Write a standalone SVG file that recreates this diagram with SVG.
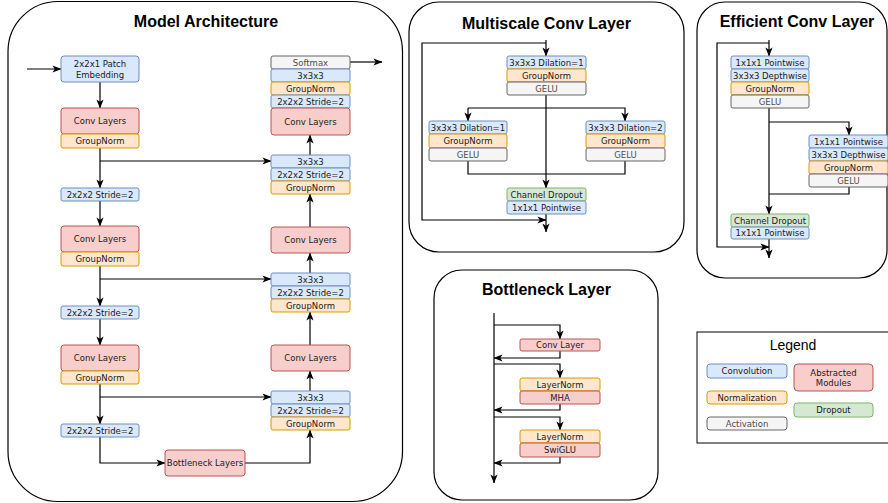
<svg xmlns="http://www.w3.org/2000/svg" width="888" height="503" viewBox="0 0 888 503">
<defs>
<marker id="arr" viewBox="0 0 10 8" refX="9.5" refY="4" markerWidth="9" markerHeight="7.5" markerUnits="userSpaceOnUse" orient="auto">
<path d="M0,0 L10,4 L0,8 L2.5,4 z" fill="#000"/>
</marker>
<style>
.panel{fill:#fff;stroke:#000;stroke-width:1.2}
.title{font-family:"Liberation Sans",Arial,sans-serif;font-weight:bold;font-size:16px;fill:#000;text-anchor:middle}
.t{font-family:"DejaVu Sans",Verdana,sans-serif;font-size:8.5px;fill:#1a1a1a;text-anchor:middle;dominant-baseline:central}
.tg{fill:#4d4d4d}
.b{fill:#dae8fc;stroke:#6c8ebf;stroke-width:1}
.o{fill:#ffe6cc;stroke:#d79b00;stroke-width:1}
.r{fill:#f8cecc;stroke:#b85450;stroke-width:1}
.g{fill:#d5e8d4;stroke:#82b366;stroke-width:1}
.a{fill:#f5f5f5;stroke:#666666;stroke-width:1}
.c{fill:none;stroke:#000;stroke-width:1.2}
.ca{fill:none;stroke:#000;stroke-width:1.2;marker-end:url(#arr)}
</style>
</defs>
<rect width="888" height="503" fill="#fff"/>

<!-- Panels -->
<g id="panel-model">
<rect class="panel" x="8" y="1.5" width="394.5" height="500" rx="50" ry="50"/>
<text class="title" x="206" y="27">Model Architecture</text>
</g>
<g id="panel-multiscale">
<rect class="panel" x="409" y="2" width="275" height="250" rx="30" ry="30"/>
<text class="title" x="546.5" y="29">Multiscale Conv Layer</text>
</g>
<g id="panel-efficient">
<rect class="panel" x="697" y="2" width="190" height="276" rx="28" ry="28"/>
<text class="title" x="797" y="27">Efficient Conv Layer</text>
</g>
<g id="panel-bottleneck">
<rect class="panel" x="434" y="270" width="224" height="230" rx="28" ry="28"/>
<text class="title" x="546.5" y="295">Bottleneck Layer</text>
</g>

<!-- Connectors -->
<g id="connectors">
<!-- Model architecture -->
<path class="ca" d="M27,69 H61"/>
<path class="ca" d="M100,82 V108"/>
<path class="ca" d="M100,148 V188"/>
<path class="ca" d="M100,161 H271"/>
<path class="ca" d="M100,201 V226"/>
<path class="ca" d="M100,266 V306"/>
<path class="ca" d="M100,279 H271"/>
<path class="ca" d="M100,319 V345"/>
<path class="ca" d="M100,384 V424"/>
<path class="ca" d="M100,397 H271"/>
<path class="ca" d="M100,437 V463 H165"/>
<path class="ca" d="M245,463 H310 V430"/>
<path class="ca" d="M310,391 V371"/>
<path class="ca" d="M310,345 V312"/>
<path class="ca" d="M310,273 V253"/>
<path class="ca" d="M310,227 V194"/>
<path class="ca" d="M310,155 V135"/>
<path class="ca" d="M350,62 H382"/>
<!-- Multiscale -->
<path class="ca" d="M546,40 V56"/>
<path class="ca" d="M546,43 H422 V220 H546"/>
<path class="ca" d="M546,95 V188"/>
<path class="ca" d="M468,108 H625 V121"/>
<path class="ca" d="M468,108 V121"/>
<path class="c" d="M468,161 V174 H625 V161"/>
<path class="ca" d="M546,214 V232"/>
<!-- Efficient -->
<path class="ca" d="M769,40 V56"/>
<path class="ca" d="M769,43 H717 V247 H769"/>
<path class="ca" d="M769,108 V214"/>
<path class="ca" d="M769,122 H849 V135"/>
<path class="c" d="M849,187 V194 H769"/>
<path class="ca" d="M769,239 V258"/>
<!-- Bottleneck -->
<path class="ca" d="M494,313 V483"/>
<path class="ca" d="M494,325 H560 V339"/>
<path class="ca" d="M560,351 V358 H494"/>
<path class="ca" d="M494,364 H560 V378"/>
<path class="ca" d="M560,404 V410 H494"/>
<path class="ca" d="M494,417 H560 V430"/>
<path class="ca" d="M560,457 V463 H494"/>
</g>

<!-- Model Architecture nodes -->
<g id="patch-embedding">
<rect class="b" x="61" y="56" width="78" height="26" rx="3"/>
<text class="t" x="100" y="63.5">2x2x1 Patch</text>
<text class="t" x="100" y="74.5">Embedding</text>
</g>
<g id="enc-conv1">
<rect class="r" x="61" y="108" width="78" height="26" rx="3"/>
<text class="t" x="100" y="121">Conv Layers</text>
<rect class="o" x="61" y="134" width="78" height="14" rx="2"/>
<text class="t" x="100" y="141">GroupNorm</text>
</g>
<g id="enc-stride1">
<rect class="b" x="61" y="188" width="78" height="13" rx="2"/>
<text class="t" x="100" y="194.5">2x2x2 Stride=2</text>
</g>
<g id="enc-conv2">
<rect class="r" x="61" y="226" width="78" height="26" rx="3"/>
<text class="t" x="100" y="239">Conv Layers</text>
<rect class="o" x="61" y="252" width="78" height="14" rx="2"/>
<text class="t" x="100" y="259">GroupNorm</text>
</g>
<g id="enc-stride2">
<rect class="b" x="61" y="306" width="78" height="13" rx="2"/>
<text class="t" x="100" y="312.5">2x2x2 Stride=2</text>
</g>
<g id="enc-conv3">
<rect class="r" x="61" y="345" width="78" height="26" rx="3"/>
<text class="t" x="100" y="358">Conv Layers</text>
<rect class="o" x="61" y="371" width="78" height="13" rx="2"/>
<text class="t" x="100" y="377.5">GroupNorm</text>
</g>
<g id="enc-stride3">
<rect class="b" x="61" y="424" width="78" height="13" rx="2"/>
<text class="t" x="100" y="430.5">2x2x2 Stride=2</text>
</g>
<g id="bottleneck-layers">
<rect class="r" x="165" y="450" width="80" height="26" rx="3"/>
<text class="t" x="205" y="463">Bottleneck Layers</text>
</g>
<g id="dec-out">
<rect class="a" x="271" y="56" width="79" height="13" rx="2"/>
<text class="t tg" x="310.5" y="62.5">Softmax</text>
<rect class="b" x="271" y="69" width="79" height="13" rx="2"/>
<text class="t" x="310.5" y="75.5">3x3x3</text>
<rect class="o" x="271" y="82" width="79" height="13" rx="2"/>
<text class="t" x="310.5" y="88.5">GroupNorm</text>
<rect class="b" x="271" y="95" width="79" height="13" rx="2"/>
<text class="t" x="310.5" y="101.5">2x2x2 Stride=2</text>
<rect class="r" x="271" y="108" width="79" height="27" rx="3"/>
<text class="t" x="310.5" y="121.5">Conv Layers</text>
</g>
<g id="dec-up1">
<rect class="b" x="271" y="155" width="79" height="13" rx="2"/>
<text class="t" x="310.5" y="161.5">3x3x3</text>
<rect class="b" x="271" y="168" width="79" height="13" rx="2"/>
<text class="t" x="310.5" y="174.5">2x2x2 Stride=2</text>
<rect class="o" x="271" y="181" width="79" height="13" rx="2"/>
<text class="t" x="310.5" y="187.5">GroupNorm</text>
</g>
<g id="dec-conv2">
<rect class="r" x="271" y="227" width="79" height="26" rx="3"/>
<text class="t" x="310.5" y="240">Conv Layers</text>
</g>
<g id="dec-up2">
<rect class="b" x="271" y="273" width="79" height="13" rx="2"/>
<text class="t" x="310.5" y="279.5">3x3x3</text>
<rect class="b" x="271" y="286" width="79" height="13" rx="2"/>
<text class="t" x="310.5" y="292.5">2x2x2 Stride=2</text>
<rect class="o" x="271" y="299" width="79" height="13" rx="2"/>
<text class="t" x="310.5" y="305.5">GroupNorm</text>
</g>
<g id="dec-conv3">
<rect class="r" x="271" y="345" width="79" height="26" rx="3"/>
<text class="t" x="310.5" y="358">Conv Layers</text>
</g>
<g id="dec-up3">
<rect class="b" x="271" y="391" width="79" height="13" rx="2"/>
<text class="t" x="310.5" y="397.5">3x3x3</text>
<rect class="b" x="271" y="404" width="79" height="13" rx="2"/>
<text class="t" x="310.5" y="410.5">2x2x2 Stride=2</text>
<rect class="o" x="271" y="417" width="79" height="13" rx="2"/>
<text class="t" x="310.5" y="423.5">GroupNorm</text>
</g>

<!-- Multiscale nodes -->
<g id="ms-top">
<rect class="b" x="507" y="56" width="79" height="13" rx="2"/>
<text class="t" x="546.5" y="62.5">3x3x3 Dilation=1</text>
<rect class="o" x="507" y="69" width="79" height="13" rx="2"/>
<text class="t" x="546.5" y="75.5">GroupNorm</text>
<rect class="a" x="507" y="82" width="79" height="13" rx="2"/>
<text class="t tg" x="546.5" y="88.5">GELU</text>
</g>
<g id="ms-left">
<rect class="b" x="429" y="121" width="78" height="13" rx="2"/>
<text class="t" x="468" y="127.5">3x3x3 Dilation=1</text>
<rect class="o" x="429" y="134" width="78" height="14" rx="2"/>
<text class="t" x="468" y="141">GroupNorm</text>
<rect class="a" x="429" y="148" width="78" height="13" rx="2"/>
<text class="t tg" x="468" y="154.5">GELU</text>
</g>
<g id="ms-right">
<rect class="b" x="586" y="121" width="79" height="13" rx="2"/>
<text class="t" x="625.5" y="127.5">3x3x3 Dilation=2</text>
<rect class="o" x="586" y="134" width="79" height="14" rx="2"/>
<text class="t" x="625.5" y="141">GroupNorm</text>
<rect class="a" x="586" y="148" width="79" height="13" rx="2"/>
<text class="t tg" x="625.5" y="154.5">GELU</text>
</g>
<g id="ms-bottom">
<rect class="g" x="507" y="188" width="79" height="13" rx="2"/>
<text class="t" x="546.5" y="194.5">Channel Dropout</text>
<rect class="b" x="507" y="201" width="79" height="13" rx="2"/>
<text class="t" x="546.5" y="207.5">1x1x1 Pointwise</text>
</g>

<!-- Efficient nodes -->
<g id="ef-top">
<rect class="b" x="731" y="56" width="78" height="13" rx="2"/>
<text class="t" x="770" y="62.5">1x1x1 Pointwise</text>
<rect class="b" x="731" y="69" width="78" height="13" rx="2"/>
<text class="t" x="770" y="75.5">3x3x3 Depthwise</text>
<rect class="o" x="731" y="82" width="78" height="13" rx="2"/>
<text class="t" x="770" y="88.5">GroupNorm</text>
<rect class="a" x="731" y="95" width="78" height="13" rx="2"/>
<text class="t tg" x="770" y="101.5">GELU</text>
</g>
<g id="ef-right">
<rect class="b" x="809" y="135" width="79" height="13" rx="2"/>
<text class="t" x="848.5" y="141.5">1x1x1 Pointwise</text>
<rect class="b" x="809" y="148" width="79" height="13" rx="2"/>
<text class="t" x="848.5" y="154.5">3x3x3 Depthwise</text>
<rect class="o" x="809" y="161" width="79" height="13" rx="2"/>
<text class="t" x="848.5" y="167.5">GroupNorm</text>
<rect class="a" x="809" y="174" width="79" height="13" rx="2"/>
<text class="t tg" x="848.5" y="180.5">GELU</text>
</g>
<g id="ef-bottom">
<rect class="g" x="731" y="214" width="78" height="13" rx="2"/>
<text class="t" x="770" y="220.5">Channel Dropout</text>
<rect class="b" x="731" y="227" width="78" height="12" rx="2"/>
<text class="t" x="770" y="233">1x1x1 Pointwise</text>
</g>

<!-- Bottleneck nodes -->
<g id="bn-conv">
<rect class="r" x="520" y="339" width="80" height="12" rx="2"/>
<text class="t" x="560" y="345">Conv Layer</text>
</g>
<g id="bn-mha">
<rect class="o" x="520" y="378" width="80" height="13" rx="2"/>
<text class="t" x="560" y="384.5">LayerNorm</text>
<rect class="r" x="520" y="391" width="80" height="13" rx="2"/>
<text class="t" x="560" y="397.5">MHA</text>
</g>
<g id="bn-swiglu">
<rect class="o" x="520" y="430" width="80" height="13" rx="2"/>
<text class="t" x="560" y="436.5">LayerNorm</text>
<rect class="r" x="520" y="443" width="80" height="14" rx="2"/>
<text class="t" x="560" y="450">SwiGLU</text>
</g>

<!-- Legend -->
<g id="legend">
<rect x="697" y="332" width="193" height="111" fill="#fff" stroke="#000" stroke-width="1"/>
<text x="793" y="350" font-family="'Liberation Sans',Arial,sans-serif" font-size="14" text-anchor="middle" fill="#000">Legend</text>
<rect class="b" x="707" y="364" width="80" height="14" rx="3"/>
<text class="t" x="747" y="371">Convolution</text>
<rect class="o" x="707" y="391" width="80" height="13" rx="3"/>
<text class="t" x="747" y="397.5">Normalization</text>
<rect class="a" x="707" y="417" width="80" height="13" rx="3"/>
<text class="t tg" x="747" y="423.5">Activation</text>
<rect class="r" x="794" y="364" width="79" height="27" rx="4"/>
<text class="t" x="833.5" y="372.5">Abstracted</text>
<text class="t" x="833.5" y="382.5">Modules</text>
<rect class="g" x="794" y="403" width="79" height="14" rx="3"/>
<text class="t" x="833.5" y="410">Dropout</text>
</g>
</svg>
